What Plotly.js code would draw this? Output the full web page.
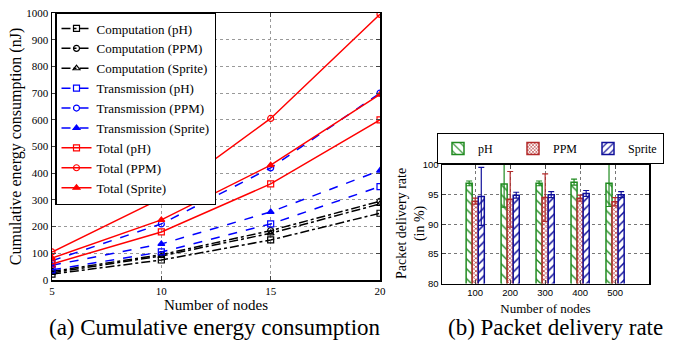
<!DOCTYPE html>
<html>
<head>
<meta charset="utf-8">
<script src="https://cdn.plot.ly/plotly-3.0.1.min.js"></script>
<style>html,body{margin:0;padding:0;background:#fff;}#chart{width:674px;height:343px;}</style>
</head>
<body>
<div id="chart"></div>
<script>
// ---- Left chart data: cumulative energy (nJ) ----
const nodesA = [5, 10, 15, 20];
const compPH     = [22, 75, 150, 250];
const compPPM    = [32, 95, 185, 295];
const compSprite = [27, 90, 175, 285];
const transPH     = [38, 105, 210, 350];
const transPPM    = [72, 210, 420, 700];
const transSprite = [55, 135, 255, 410];
const totalPH     = [60, 180, 360, 600];
const totalPPM    = [105, 306, 605, 995];
const totalSprite = [82, 225, 430, 695];

// ---- Right chart data: packet delivery rate (%) ----
const nodesB = ['100', '200', '300', '400', '500'];
const pdrPH     = [96.9, 96.8, 96.9, 97.1, 96.9];
const pdrPPM    = [93.9, 94.2, 94.5, 94.4, 93.8];
const pdrSprite = [94.7, 94.9, 95.0, 95.2, 95.0];
const errPH     = [0.4, 3.9, 0.4, 0.5, 3.9];
const errPPM    = [0.5, 4.7, 4.0, 0.5, 0.7];
const errSprite = [4.9, 0.5, 0.5, 0.5, 0.5];

const SERIF = "'Liberation Serif', 'Times New Roman', Times, serif";
const SANS = "'Liberation Sans', Arial, Helvetica, sans-serif";

function line(name, x, y, color, dash, symbol) {
  return {
    type: 'scatter', mode: 'lines+markers', name: name, x: x, y: y,
    xaxis: 'x', yaxis: 'y', legend: 'legend',
    line: {color: color, width: 1.5, dash: dash},
    marker: {symbol: symbol, size: 6, color: color, line: {color: color, width: 1.2}}
  };
}

const traces = [
  line('Computation (pH)', nodesA, compPH, '#000', 'dashdot', 'square-open'),
  line('Computation (PPM)', nodesA, compPPM, '#000', 'dashdot', 'circle-open'),
  line('Computation (Sprite)', nodesA, compSprite, '#000', 'dashdot', 'triangle-up-open'),
  line('Transmission (pH)', nodesA, transPH, '#0000ff', 'dash', 'square-open'),
  line('Transmission (PPM)', nodesA, transPPM, '#0000ff', 'dash', 'circle-open'),
  line('Transmission (Sprite)', nodesA, transSprite, '#0000ff', 'dash', 'triangle-up'),
  line('Total (pH)', nodesA, totalPH, '#ff0000', 'solid', 'square-open'),
  line('Total (PPM)', nodesA, totalPPM, '#ff0000', 'solid', 'circle-open'),
  line('Total (Sprite)', nodesA, totalSprite, '#ff0000', 'solid', 'triangle-up')
];

function bar(name, y, err, color, shape, size, solidity) {
  return {
    type: 'bar', name: name, x: nodesB, y: y, xaxis: 'x2', yaxis: 'y2', legend: 'legend2',
    marker: {
      color: 'white',
      line: {color: color, width: 1.5},
      pattern: {shape: shape, fgcolor: color, bgcolor: 'white', size: size, solidity: solidity, fillmode: 'replace'}
    },
    error_y: {type: 'data', array: err, visible: true, color: color, thickness: 1.2, width: 3}
  };
}
traces.push(bar('pH', pdrPH, errPH, '#1f8a1f', '\\', 7, 0.2));
traces.push(bar('PPM', pdrPPM, errPPM, '#b22a2a', 'x', 3, 0.4));
traces.push(bar('Sprite', pdrSprite, errSprite, '#10109a', '/', 6, 0.25));

const W = 674, H = 343;
const layout = {
  width: W, height: H,
  margin: {l: 0, r: 0, t: 0, b: 0, autoexpand: false},
  paper_bgcolor: 'white', plot_bgcolor: 'white',
  showlegend: true,
  barmode: 'group', bargap: 0.48, bargroupgap: 0,
  font: {family: SERIF, color: '#000'},
  xaxis: {
    domain: [52 / W, 380 / W], anchor: 'y',
    range: [5, 20], tickvals: nodesA, ticks: 'inside', ticklen: 4,
    showline: true, linecolor: '#000', linewidth: 1.5, mirror: 'ticks',
    showgrid: true, gridcolor: '#999', griddash: 'dot', gridwidth: 1,
    zeroline: false,
    tickfont: {family: SERIF, size: 11},
    title: {text: 'Number of nodes', font: {family: SERIF, size: 15}, standoff: 0}
  },
  yaxis: {
    domain: [63 / H, 330 / H], anchor: 'x',
    range: [0, 1000], dtick: 100, ticks: 'inside', ticklen: 4,
    showline: true, linecolor: '#000', linewidth: 1.5, mirror: 'ticks',
    showgrid: true, gridcolor: '#999', griddash: 'dot', gridwidth: 1,
    zeroline: false,
    tickfont: {family: SERIF, size: 11},
    title: {text: 'Cumulative energy consumption (nJ)', font: {family: SERIF, size: 16}, standoff: 0}
  },
  xaxis2: {
    domain: [442 / W, 649 / W], anchor: 'y2',
    type: 'category', range: [-0.95, 4.97], ticks: 'inside', ticklen: 4,
    showline: true, linecolor: '#000', linewidth: 1.5, mirror: 'ticks',
    showgrid: true, gridcolor: '#777', griddash: 'dot', gridwidth: 1,
    zeroline: false,
    tickfont: {family: SANS, size: 9.5},
    title: {text: 'Number of nodes', font: {family: SERIF, size: 13}, standoff: 6}
  },
  yaxis2: {
    domain: [59.5 / H, 178 / H], anchor: 'x2',
    range: [80, 100], dtick: 5, ticks: 'inside', ticklen: 4,
    showline: true, linecolor: '#000', linewidth: 1.5, mirror: 'ticks',
    showgrid: true, gridcolor: '#777', griddash: 'dot', gridwidth: 1,
    zeroline: false,
    tickfont: {family: SANS, size: 9.5}
  },
  legend: {
    x: 55 / W, y: 1 - 12 / H, xanchor: 'left', yanchor: 'top',
    bgcolor: 'white', bordercolor: '#000', borderwidth: 1.5,
    font: {family: SERIF, size: 13}, itemwidth: 30, tracegroupgap: 0
  },
  legend2: {
    orientation: 'h', x: 437 / W, y: 1 - 133 / H, xanchor: 'left', yanchor: 'top',
    bgcolor: 'white', bordercolor: '#000', borderwidth: 1,
    font: {family: SERIF, size: 12}, entrywidth: 30, itemwidth: 30
  },
  annotations: [
    {text: 'Packet delivery rate<br>(in %)', xref: 'paper', yref: 'paper',
     x: 411 / W, y: 1 - 224 / H, xanchor: 'center', yanchor: 'middle', showarrow: false,
     textangle: -90, font: {family: SERIF, size: 14}},
    {text: '(a) Cumulative energy consumption', xref: 'paper', yref: 'paper',
     x: 215 / W, y: 1 - 327 / H, xanchor: 'center', yanchor: 'middle', showarrow: false,
     font: {family: SERIF, size: 23}},
    {text: '(b) Packet delivery rate', xref: 'paper', yref: 'paper',
     x: 555 / W, y: 1 - 327 / H, xanchor: 'center', yanchor: 'middle', showarrow: false,
     font: {family: SERIF, size: 23}}
  ]
};

Plotly.newPlot('chart', traces, layout, {displayModeBar: false, staticPlot: true});
</script>
</body>
</html>
